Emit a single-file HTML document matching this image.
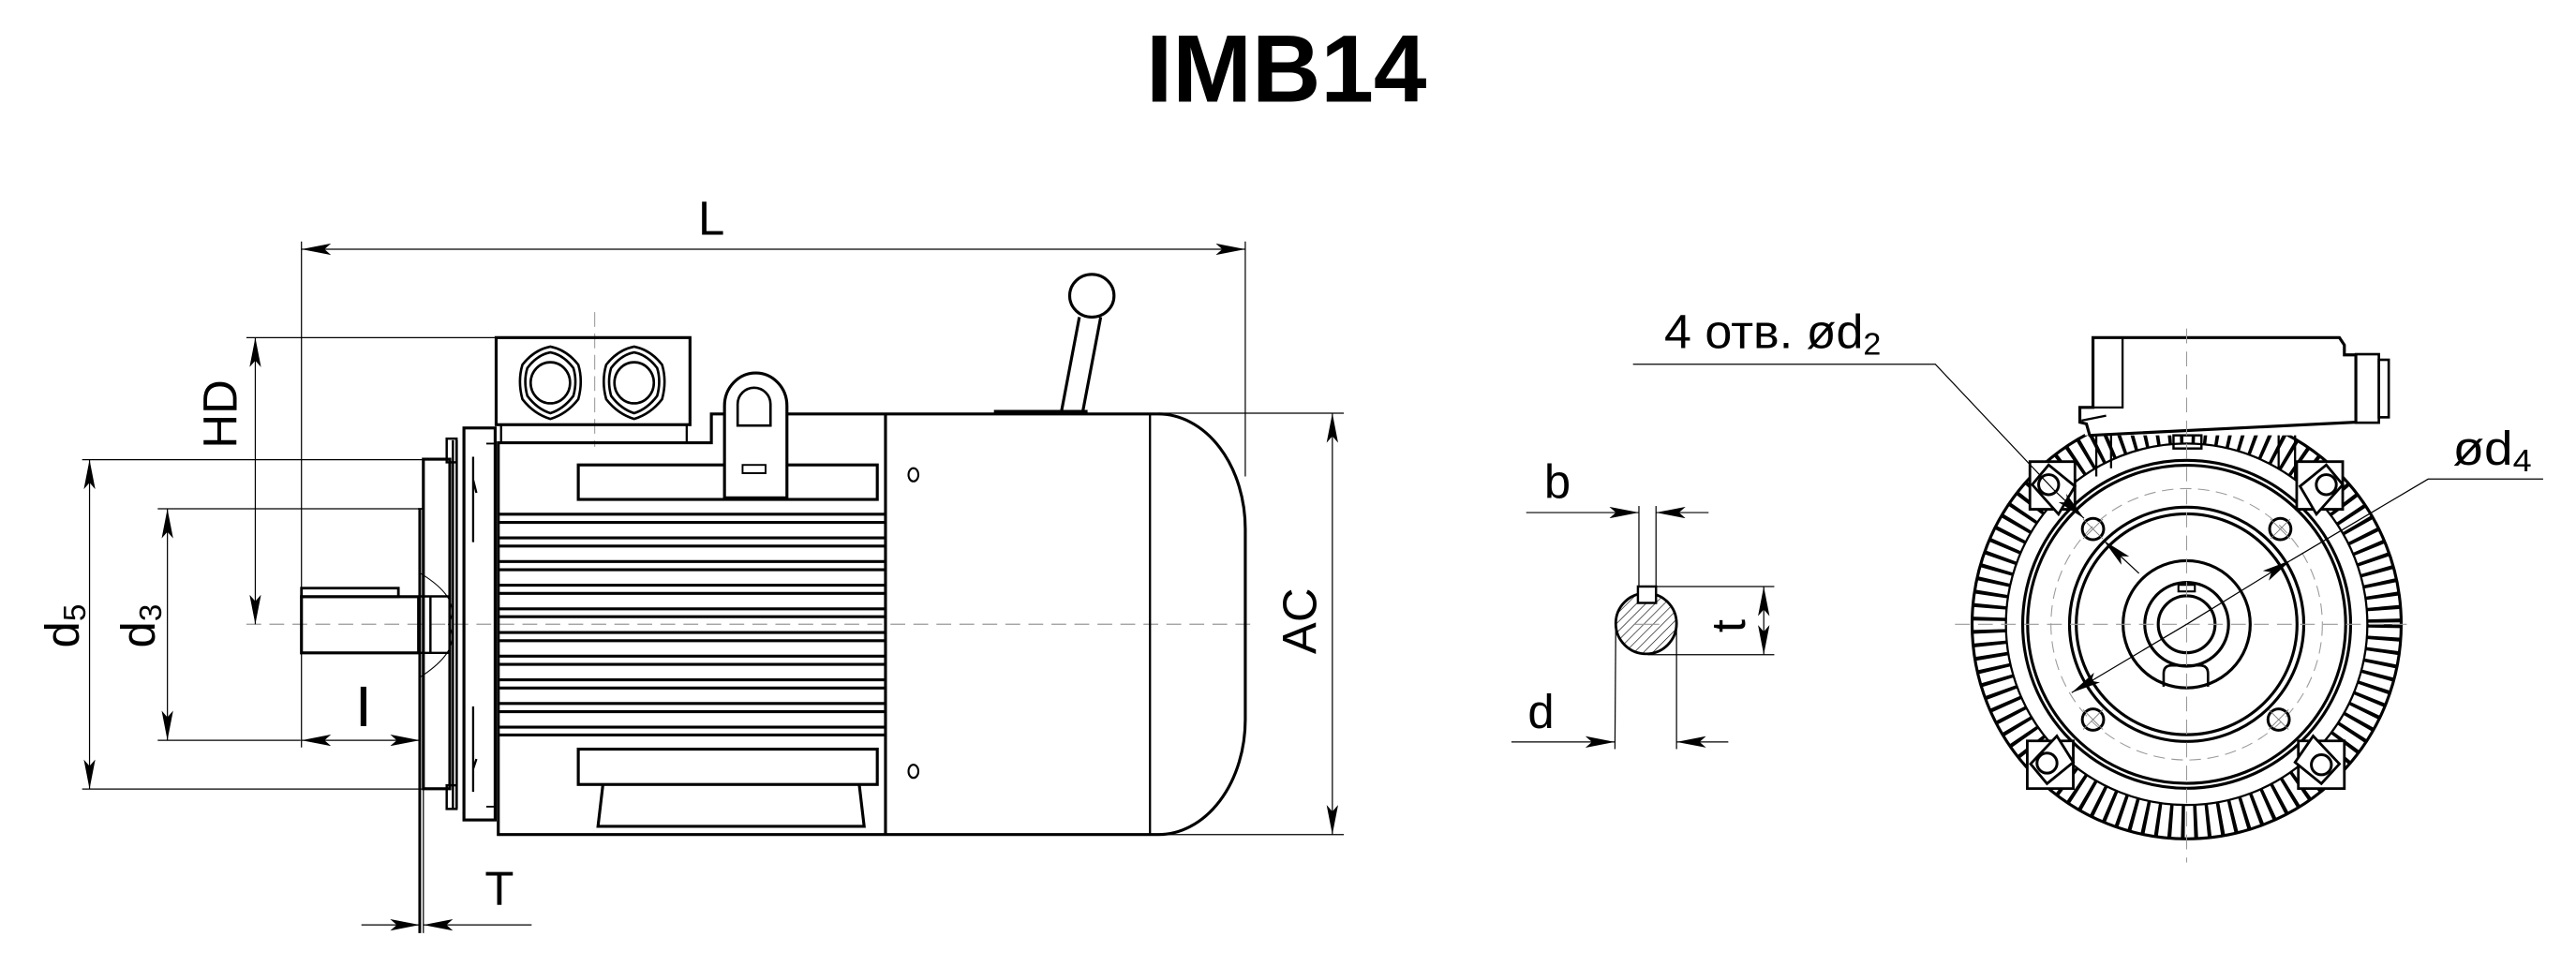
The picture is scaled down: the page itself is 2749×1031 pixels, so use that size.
<!DOCTYPE html>
<html><head><meta charset="utf-8"><style>
html,body{margin:0;padding:0;background:#fff;}
svg{display:block;}
text{font-family:"Liberation Sans","DejaVu Sans",sans-serif;fill:#000;}
</style></head><body>
<svg width="2749" height="1031" viewBox="0 0 1568 588" preserveAspectRatio="none" xmlns="http://www.w3.org/2000/svg">
<defs>
<marker id="a" viewBox="0 0 18 7" refX="18" refY="3.5" markerWidth="18" markerHeight="7" markerUnits="userSpaceOnUse" orient="auto-start-reverse">
<path d="M0,0 L18,3.5 L0,7 L4,3.5 Z" fill="#000"/></marker>
<pattern id="h" width="4" height="4" patternUnits="userSpaceOnUse" patternTransform="rotate(45)">
<line x1="0" y1="0" x2="0" y2="4" stroke="#000" stroke-width="0.7"/></pattern>
<clipPath id="ring"><path d="M1331,249.4 a130.6,130.6 0 1 0 0.01,0 Z M1331,270 a110,110 0 1 1 -0.01,0 Z" clip-rule="evenodd"/></clipPath>
</defs>

<text x="783" y="61.8" font-size="58" font-weight="bold" text-anchor="middle">IMB14</text>

<g fill="none" stroke="#000">
<line x1="150" y1="380" x2="765" y2="380" stroke="#999" stroke-width="0.7" stroke-dasharray="9,5"/>
<line x1="362" y1="190" x2="362" y2="272" stroke="#999" stroke-width="0.6" stroke-dasharray="9,4"/>
<path d="M303.3,269.5 H433 V252 H705 A53,70 0 0 1 758,322 V438 A53,70 0 0 1 705,508 H303.3 Z" stroke-width="1.8"/>
<line x1="539" y1="252" x2="539" y2="508" stroke-width="1.8"/>
<line x1="700" y1="252" x2="700" y2="508" stroke-width="1.3"/>
<g stroke-width="1.8">
<line x1="303" y1="313" x2="539" y2="313"/><line x1="303" y1="318" x2="539" y2="318"/>
<line x1="303" y1="327.4" x2="539" y2="327.4"/><line x1="303" y1="332.4" x2="539" y2="332.4"/>
<line x1="303" y1="341.8" x2="539" y2="341.8"/><line x1="303" y1="346.8" x2="539" y2="346.8"/>
<line x1="303" y1="356.2" x2="539" y2="356.2"/><line x1="303" y1="361.2" x2="539" y2="361.2"/>
<line x1="303" y1="370.6" x2="539" y2="370.6"/><line x1="303" y1="375.4" x2="539" y2="375.4"/>
<line x1="303" y1="385" x2="539" y2="385"/><line x1="303" y1="390" x2="539" y2="390"/>
<line x1="303" y1="399.4" x2="539" y2="399.4"/><line x1="303" y1="404.4" x2="539" y2="404.4"/>
<line x1="303" y1="413.8" x2="539" y2="413.8"/><line x1="303" y1="418.8" x2="539" y2="418.8"/>
<line x1="303" y1="428.2" x2="539" y2="428.2"/><line x1="303" y1="433.2" x2="539" y2="433.2"/>
<line x1="303" y1="442.6" x2="539" y2="442.6"/><line x1="303" y1="447.4" x2="539" y2="447.4"/>
</g>
<rect x="352" y="283" width="182" height="21" stroke-width="1.8"/>
<rect x="352" y="456" width="182" height="21.5" stroke-width="1.8"/>
<path d="M367,477.5 L364,503 H526 L523,477.5" stroke-width="1.8"/>
<ellipse cx="556" cy="289" rx="3" ry="4" stroke-width="1.2"/>
<ellipse cx="556" cy="469.5" rx="3" ry="4" stroke-width="1.2"/>
<rect x="302" y="205.5" width="118" height="53" stroke-width="1.8"/>
<path d="M305,258.6 V269.5 M418,258.6 V269.5 M433,252 V262" stroke-width="1.3"/>
<g stroke-width="1.5">
<path d="M335,211 Q345,213 352,222 Q355,232 352,243 Q345,252 335,255 Q325,252 318,243 Q315,232 318,222 Q325,213 335,211 Z"/>
<path d="M335,214.5 Q343,216 349,224 Q351.5,232 349,241 Q343,249 335,251.5 Q327,249 321,241 Q318.5,232 321,224 Q327,216 335,214.5 Z"/>
<ellipse cx="335" cy="233" rx="12" ry="12.5"/>
<path d="M386,211 Q396,213 403,222 Q406,232 403,243 Q396,252 386,255 Q376,252 369,243 Q366,232 369,222 Q376,213 386,211 Z"/>
<path d="M386,214.5 Q394,216 400,224 Q402.5,232 400,241 Q394,249 386,251.5 Q378,249 372,241 Q369.5,232 372,224 Q378,216 386,214.5 Z"/>
<ellipse cx="386" cy="233" rx="12" ry="12.5"/>
</g>
<path d="M441,303 V247 A19,20 0 0 1 479,247 V303 Z" fill="#fff" stroke-width="1.8"/>
<path d="M449,259 V246 A10,10 0 0 1 469,246 V259 Z" stroke-width="1.5"/>
<rect x="452" y="283" width="14" height="5" stroke-width="1.1"/>
<ellipse cx="664.6" cy="180" rx="13.5" ry="13" stroke-width="1.8"/>
<path d="M657,193 L646,251 M670,193 L659,251" stroke-width="1.8"/>
<line x1="605" y1="251" x2="662" y2="251" stroke-width="3"/>
<rect x="282.4" y="260.5" width="19" height="238.6" stroke-width="1.8"/>
<path d="M288,278 V330 M288,430 V482 M290,300 L288,292 M290,462 L288,468" stroke-width="1.3"/>
<path d="M296,270 H301 M296,491 H301" stroke-width="1.1"/>
<line x1="275.7" y1="268" x2="275.7" y2="492" stroke-width="1.4"/>
<line x1="278" y1="268" x2="278" y2="492" stroke-width="1.4"/>
<rect x="257.7" y="279.5" width="16.1" height="200.6" stroke-width="1.8"/>
<rect x="271.9" y="267" width="6" height="14.4" stroke-width="1.4"/>
<rect x="271.9" y="478" width="6" height="14.4" stroke-width="1.4"/>
<line x1="255.5" y1="309.7" x2="255.5" y2="568" stroke-width="1.7"/>
<line x1="257.7" y1="480" x2="257.7" y2="568" stroke-width="0.7"/>
<line x1="254.5" y1="309.7" x2="257.7" y2="309.7" stroke-width="1"/>
<rect x="183.5" y="363.2" width="71.3" height="34.2" stroke-width="1.8"/>
<rect x="183.5" y="358" width="59" height="5.2" stroke-width="1.6"/>
<path d="M256,363 H273.8 M256,397.4 H273.8 M262,363 V397.4" stroke-width="1.4"/>
<path d="M256,349 Q282,365 273,380 Q282,395 256,412" stroke-width="0.6"/>

<g stroke-width="0.7">
<line x1="183.5" y1="147" x2="183.5" y2="455"/>
<line x1="758" y1="147" x2="758" y2="290"/>
<line x1="183.5" y1="151.7" x2="758" y2="151.7" marker-start="url(#a)" marker-end="url(#a)"/>
<line x1="150" y1="205.5" x2="302" y2="205.5"/>
<line x1="155.4" y1="205.5" x2="155.4" y2="380" marker-start="url(#a)" marker-end="url(#a)"/>
<line x1="50" y1="279.8" x2="257" y2="279.8"/>
<line x1="50" y1="480.3" x2="257" y2="480.3"/>
<line x1="54.5" y1="279.8" x2="54.5" y2="480.3" marker-start="url(#a)" marker-end="url(#a)"/>
<line x1="96" y1="309.7" x2="255" y2="309.7"/>
<line x1="96" y1="450.6" x2="183" y2="450.6"/>
<line x1="101.9" y1="309.7" x2="101.9" y2="450.6" marker-start="url(#a)" marker-end="url(#a)"/>
<line x1="183.5" y1="450.6" x2="255.5" y2="450.6" marker-start="url(#a)" marker-end="url(#a)"/>
<line x1="220" y1="563" x2="255.5" y2="563" marker-end="url(#a)"/>
<line x1="323.6" y1="563" x2="257.7" y2="563" marker-end="url(#a)"/>
<line x1="705" y1="251.5" x2="818" y2="251.5"/>
<line x1="705" y1="508" x2="818" y2="508"/>
<line x1="811" y1="251.5" x2="811" y2="508" marker-start="url(#a)" marker-end="url(#a)"/>
</g>

<circle cx="1002" cy="379.5" r="18.5" fill="url(#h)" stroke-width="1.6"/>
<rect x="997" y="357" width="11" height="10" fill="#fff" stroke-width="1.4"/>
<line x1="995" y1="380" x2="1010" y2="380" stroke="#999" stroke-width="0.6"/>
<g stroke-width="0.7">
<line x1="997.6" y1="308" x2="997.6" y2="357"/>
<line x1="1008" y1="308" x2="1008" y2="357"/>
<line x1="929" y1="312" x2="997.6" y2="312" marker-end="url(#a)"/>
<line x1="1040" y1="312" x2="1008" y2="312" marker-end="url(#a)"/>
<line x1="1008" y1="357" x2="1080" y2="357"/>
<line x1="1003" y1="398.5" x2="1080" y2="398.5"/>
<line x1="1073.6" y1="357" x2="1073.6" y2="398.5" marker-start="url(#a)" marker-end="url(#a)"/>
<line x1="983.5" y1="382" x2="983" y2="456"/>
<line x1="1020.5" y1="382" x2="1020.5" y2="456"/>
<line x1="920" y1="451.6" x2="983" y2="451.6" marker-end="url(#a)"/>
<line x1="1052" y1="451.6" x2="1020.5" y2="451.6" marker-end="url(#a)"/>
</g>

<circle cx="1331" cy="380" r="130.6" stroke-width="1.8"/>
<circle cx="1331" cy="380" r="120.3" stroke-width="20.6" stroke-dasharray="2.2,5.4" clip-path="url(#ring)"/>
<circle cx="1331" cy="380" r="110" stroke-width="1.3"/>
<rect x="1269" y="240" width="170" height="25" fill="#fff" stroke="none"/>
<path d="M1274,205.5 H1424 L1427,210 V216 H1434 V257 L1272,265 L1270,258 L1266,257 V248 H1274 Z" fill="#fff" stroke-width="1.8"/>
<path d="M1292,205.5 V248 H1274 M1267,256 L1282,253" stroke-width="1.3"/>
<rect x="1434" y="215.6" width="14" height="41.7" stroke-width="1.5"/>
<rect x="1448" y="219" width="6" height="35" stroke-width="1.5"/>
<path d="M1276,265 V290 M1285,265 V285 M1387,265 V285 M1397,265 V292" stroke-width="1.3"/>
<circle cx="1331" cy="380" r="99.8" fill="#fff" stroke-width="1.8"/>
<circle cx="1331" cy="380" r="96.8" stroke-width="1.8"/>
<circle cx="1331" cy="380" r="82.6" stroke="#999" stroke-width="0.6" stroke-dasharray="7,4"/>
<circle cx="1331" cy="380" r="71.3" stroke-width="1.8"/>
<circle cx="1331" cy="380" r="67.2" stroke-width="1.8"/>
<circle cx="1331" cy="380" r="38.7" stroke-width="1.8"/>
<circle cx="1331" cy="380" r="25.5" stroke-width="1.8"/>
<circle cx="1331" cy="380" r="17.3" stroke-width="1.8"/>
<rect x="1323" y="265" width="17" height="8" stroke-width="1.4"/>
<rect x="1326" y="356" width="10" height="4" stroke-width="1.2"/>
<path d="M1317,418 V410 Q1317,405 1322,405 H1339 Q1344,405 1344,410 V418" stroke-width="1.5"/>
<g stroke-width="1.6" fill="#fff">
<path d="M1235.6,281 H1263 V310 H1235.6 Z"/>
<path d="M1398,281 H1426 V310 H1398 Z"/>
<path d="M1234,451 H1262 V480 H1234 Z"/>
<path d="M1399,451 H1427 V480 H1399 Z"/>
<path d="M1237,295 L1247,283 L1263,296 L1253,313 Z"/>
<path d="M1426,295 L1416,283 L1400,296 L1410,313 Z"/>
<path d="M1236,465 L1246,477 L1262,464 L1252,448 Z"/>
<path d="M1424,465 L1413,477 L1397,464 L1408,448 Z"/>
</g>
<g stroke-width="1.7">
<circle cx="1247" cy="295" r="6.1"/><circle cx="1416" cy="295" r="6.1"/>
<circle cx="1246" cy="464.5" r="6.1"/><circle cx="1413" cy="465.5" r="6.1"/>
<circle cx="1274" cy="322" r="6.5"/><circle cx="1388" cy="322" r="6.5"/>
<circle cx="1274" cy="438" r="6.5"/><circle cx="1387" cy="438" r="6.5"/>
</g>
<g stroke-width="0.5" stroke="#777">
<path d="M1268,316 L1280,328 M1280,316 L1268,328 M1382,316 L1394,328 M1394,316 L1382,328 M1268,432 L1280,444 M1280,432 L1268,444 M1381,432 L1393,444 M1393,432 L1381,444"/>
</g>
<line x1="1331" y1="200" x2="1331" y2="525" stroke="#999" stroke-width="0.6" stroke-dasharray="9,5"/>
<line x1="1190" y1="380" x2="1470" y2="380" stroke="#999" stroke-width="0.6" stroke-dasharray="9,5"/>
<g stroke-width="0.7">
<polyline points="994,221.7 1178,221.7 1250,298"/>
<line x1="1250" y1="298" x2="1268.5" y2="315.5" marker-end="url(#a)"/>
<line x1="1302" y1="349" x2="1280.5" y2="329" marker-end="url(#a)"/>
<polyline points="1548,291.6 1478,291.6 1394.5,341"/>
<line x1="1331" y1="380" x2="1394.5" y2="341" marker-end="url(#a)"/>
<line x1="1331" y1="380" x2="1261" y2="421.6" marker-end="url(#a)"/>
</g>
</g>

<text x="433" y="143" font-size="29" text-anchor="middle">L</text>
<text transform="translate(144,252) rotate(-90)" font-size="29" text-anchor="middle">HD</text>
<text transform="translate(48,381) rotate(-90)" font-size="29" text-anchor="middle">d<tspan font-size="19" dy="4">5</tspan></text>
<text transform="translate(94,381) rotate(-90)" font-size="29" text-anchor="middle">d<tspan font-size="19" dy="4">3</tspan></text>
<rect x="219.5" y="418" width="3.5" height="24" fill="#000"/>
<text x="304" y="551" font-size="29" text-anchor="middle">T</text>
<text transform="translate(801,378) rotate(-90)" font-size="29" text-anchor="middle">AC</text>
<text x="948" y="303" font-size="29" text-anchor="middle">b</text>
<text x="938" y="443" font-size="29" text-anchor="middle">d</text>
<text transform="translate(1062,381) rotate(-90)" font-size="29" text-anchor="middle">t</text>
<text x="1013" y="212" font-size="29" textLength="132" lengthAdjust="spacingAndGlyphs">4 отв. ød<tspan font-size="19" dy="4">2</tspan></text>
<text x="1493" y="283" font-size="29" textLength="48" lengthAdjust="spacingAndGlyphs">ød<tspan font-size="19" dy="4">4</tspan></text>
</svg>
</body></html>
